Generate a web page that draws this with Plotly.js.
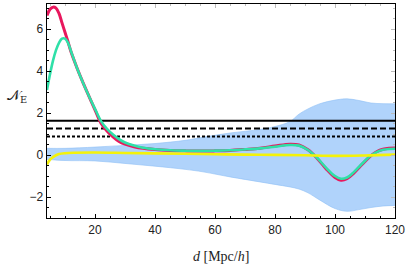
<!DOCTYPE html>
<html>
<head>
<meta charset="utf-8">
<script src="https://cdn.plot.ly/plotly-3.0.1.min.js"></script>
<style>html,body{margin:0;padding:0;background:#fff;}#chart{width:407px;height:266px;}</style>
</head>
<body>
<div id="chart"></div>
<script>
// ---- data ----
const redX = [4,5,6,7,8,9,10,11,12,14,16,18,20,22,24,26,28,30,33,36,40,45,50,55,60,65,70,75,80,85,88,91,94,97,100,102,104,106,108,110,112,114,116,118,120];
const redY = [6.65,6.95,7.05,7.0,6.75,6.3,5.85,5.4,4.92,4.15,3.45,2.8,2.15,1.52,1.15,0.87,0.65,0.52,0.4,0.32,0.26,0.22,0.2,0.19,0.2,0.22,0.27,0.33,0.43,0.52,0.48,0.25,-0.15,-0.65,-1.07,-1.2,-1.13,-0.9,-0.6,-0.3,-0.03,0.17,0.28,0.33,0.34];
const greenX = [4,5,6,7,8,9,10,11,12,14,16,18,20,22,24,26,28,30,33,36,40,45,50,55,60,65,70,75,80,85,88,91,94,97,100,102,104,106,108,110,112,114,116,118,120];
const greenY = [3.1,3.85,4.5,5.0,5.35,5.55,5.55,5.35,4.95,4.15,3.45,2.8,2.2,1.62,1.25,0.98,0.76,0.6,0.45,0.35,0.28,0.23,0.21,0.2,0.21,0.23,0.27,0.32,0.4,0.48,0.45,0.24,-0.13,-0.6,-1.0,-1.13,-1.07,-0.85,-0.56,-0.27,-0.02,0.15,0.25,0.29,0.3];
const yellowX = [4,5,6,7,8,10,13,20,30,40,50,60,70,80,90,100,110,120];
const yellowY = [-0.45,-0.22,-0.1,-0.01,0.05,0.09,0.11,0.12,0.1,0.08,0.06,0.04,0.02,0.01,-0.01,-0.04,-0.02,0.02];
const bandX = [4,10,20,30,40,50,56,65,75,80,85,88,91,95,100,104,108,112,116,120];
const bandUpper = [0.32,0.32,0.38,0.46,0.55,0.7,0.85,1.05,1.22,1.36,1.6,1.95,2.2,2.45,2.62,2.68,2.6,2.48,2.45,2.44];
const bandLower = [-0.21,-0.26,-0.28,-0.4,-0.53,-0.68,-0.8,-1.04,-1.28,-1.4,-1.52,-1.62,-1.8,-2.15,-2.55,-2.68,-2.6,-2.5,-2.43,-2.4];
const thresholdY = [1.64, 1.26, 0.88];
const thresholdDash = ['solid', '6px,3px', '3px,2px'];
const xRange = [4, 120];
const yRange = [-3, 7.2];
const xTicks = [20,40,60,80,100,120];
const yTicks = [-2,0,2,4,6];
const yTickText = ['\u22122','0','2','4','6'];

// ---- traces ----
const traces = [];
traces.push({x: bandX, y: bandLower, mode:'lines', line:{color:'#8fbff5', width:0.6, shape:'spline'}, hoverinfo:'skip'});
traces.push({x: bandX, y: bandUpper, mode:'lines', fill:'tonexty', fillcolor:'#b0d3fb', line:{color:'#8fbff5', width:0.6, shape:'spline'}, hoverinfo:'skip'});
thresholdY.forEach((v,i)=>{
  traces.push({x: xRange, y:[v,v], mode:'lines', line:{color:'#000', width:2, dash: thresholdDash[i]}});
});
traces.push({x: redX, y: redY, mode:'lines', line:{color:'#e8175d', width:3, shape:'spline'}});
traces.push({x: greenX, y: greenY, mode:'lines', line:{color:'#2fe0a8', width:2.6, shape:'spline'}});
traces.push({x: yellowX, y: yellowY, mode:'lines', line:{color:'#f4f20a', width:2.6, shape:'spline'}});
// mirror axes for gray ticks
traces.push({x: xRange, y: yRange, xaxis:'x2', yaxis:'y2', mode:'lines', line:{width:0}, hoverinfo:'skip', showlegend:false});

const tickFont = {family:'Liberation Sans, Arial, sans-serif', size:12, color:'#222'};
const layout = {
  width:407, height:266,
  margin:{l:47, r:12, t:4, b:48},
  paper_bgcolor:'#fff', plot_bgcolor:'#fff',
  showlegend:false,
  xaxis:{range:xRange, tickvals:xTicks, ticks:'inside', ticklen:4, tickwidth:1, tickcolor:'#000',
    minor:{dtick:5, tick0:0, ticks:'inside', ticklen:2, tickcolor:'#000', showgrid:false},
    showline:true, linecolor:'#000', linewidth:1.3, mirror:true, showgrid:false, zeroline:false,
    tickfont:tickFont},
  yaxis:{range:yRange, tickvals:yTicks, ticktext:yTickText, ticks:'inside', ticklen:4, tickwidth:1, tickcolor:'#000',
    minor:{dtick:0.5, tick0:0, ticks:'inside', ticklen:2, tickcolor:'#000', showgrid:false},
    showline:true, linecolor:'#000', linewidth:1.3, mirror:true, showgrid:false, zeroline:false,
    tickfont:tickFont},
  xaxis2:{range:xRange, overlaying:'x', side:'top', tickvals:xTicks, ticks:'inside', ticklen:4, tickcolor:'#bbb',
    minor:{dtick:5, tick0:0, ticks:'inside', ticklen:2, tickcolor:'#bbb'}, showticklabels:false, showgrid:false, zeroline:false, showline:false},
  yaxis2:{range:yRange, overlaying:'y', side:'right', tickvals:yTicks, ticks:'inside', ticklen:4, tickcolor:'#bbb',
    minor:{dtick:0.5, tick0:0, ticks:'inside', ticklen:2, tickcolor:'#bbb'}, showticklabels:false, showgrid:false, zeroline:false, showline:false},
  annotations:[
    {xref:'paper', yref:'paper', x:0.5, y:-0.18, xanchor:'center', yanchor:'middle', showarrow:false,
     text:'<i>d</i> [Mpc/<i>h</i>]', font:{family:'Liberation Serif, DejaVu Serif, serif', size:14, color:'#222'}},
    {xref:'paper', yref:'paper', x:-0.085, y:0.57, xanchor:'center', yanchor:'middle', showarrow:false,
     text:'\uD835\uDCA9<sub>E</sub>', font:{family:'DejaVu Serif, Liberation Serif, serif', size:14, color:'#222'}}
  ]
};
Plotly.newPlot('chart', traces, layout, {displayModeBar:false, staticPlot:true});
</script>
</body>
</html>
